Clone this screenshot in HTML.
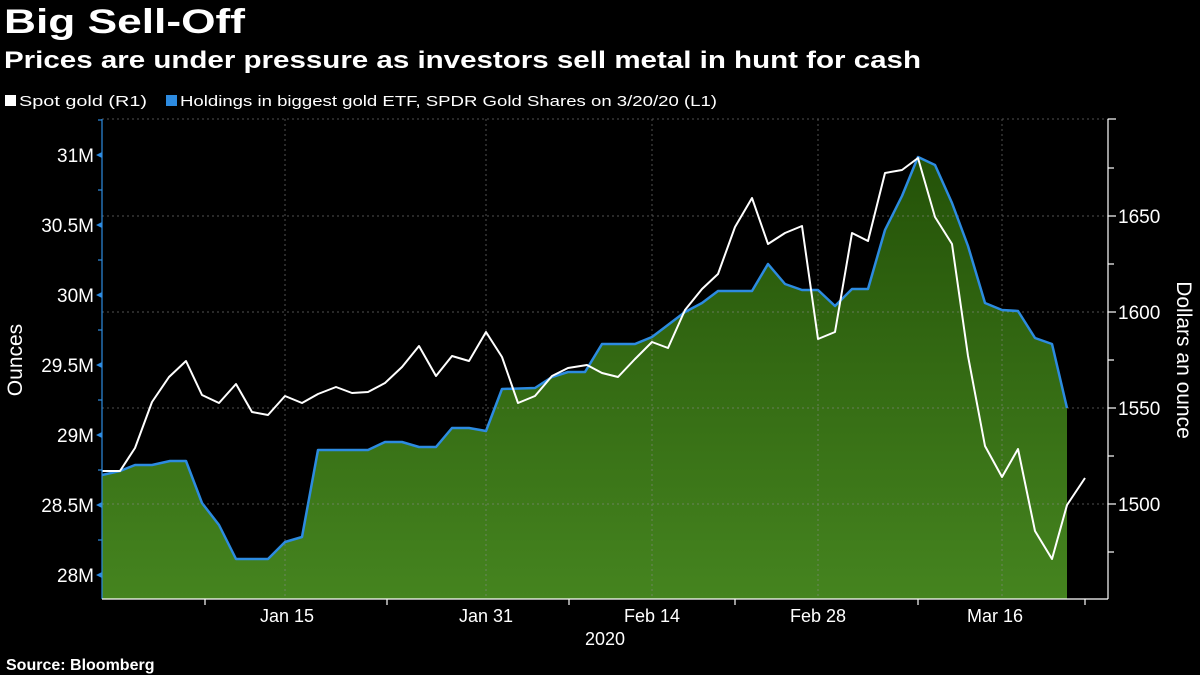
<!DOCTYPE html>
<html><head><meta charset="utf-8"><style>
html,body{margin:0;padding:0;background:#000;}
svg{display:block;font-family:"Liberation Sans",sans-serif;}
</style></head><body>
<svg width="1200" height="675" viewBox="0 0 1200 675" xmlns="http://www.w3.org/2000/svg">
<defs>
<linearGradient id="g" gradientUnits="userSpaceOnUse" x1="0" y1="157" x2="0" y2="599">
<stop offset="0" stop-color="#245208"/><stop offset="1" stop-color="#45841f"/>
</linearGradient>
</defs>
<rect width="1200" height="675" fill="#000"/>
<text x="4" y="33" fill="#fff" font-size="34" font-weight="bold" textLength="241" lengthAdjust="spacingAndGlyphs">Big Sell-Off</text>
<text x="4" y="68" fill="#fff" font-size="24" font-weight="bold" textLength="917" lengthAdjust="spacingAndGlyphs">Prices are under pressure as investors sell metal in hunt for cash</text>
<rect x="5" y="95" width="11" height="11" fill="#fff"/>
<text x="19" y="106" fill="#fff" font-size="15" textLength="128" lengthAdjust="spacingAndGlyphs">Spot gold (R1)</text>
<rect x="166" y="95" width="11" height="11" fill="#2d8be0"/>
<text x="180" y="106" fill="#fff" font-size="15" textLength="537" lengthAdjust="spacingAndGlyphs">Holdings in biggest gold ETF, SPDR Gold Shares on 3/20/20 (L1)</text>

<polygon fill="url(#g)" points="102,599 102,475 120,471 135,465 152,465 170,461 186,461 202,503 219,525 236,559 268,559 285,542 302,537 318,450 368,450 385,442 402,442 419,447 436,447 452,428 469,428 486,431 502,389 535,388 552,377 568,372 585,372 602,344 635,344 652,337 685,312 702,303 718,291 752,291 768,264 785,284 802,290 818,290 835,306 852,289 868,289 885,230 902,196 918,157 935,165 952,203 968,246 985,303 1002,310 1018,311 1035,338 1052,344 1067,408 1067,599"/>

<g stroke="#888" stroke-width="1" stroke-dasharray="2,3" fill="none" opacity="0.6">
<line x1="102" y1="119" x2="1108" y2="119"/>
<line x1="102" y1="216" x2="1108" y2="216"/>
<line x1="102" y1="312" x2="1108" y2="312"/>
<line x1="102" y1="408" x2="1108" y2="408"/>
<line x1="102" y1="504" x2="1108" y2="504"/>
<line x1="285" y1="119" x2="285" y2="599"/>
<line x1="486" y1="119" x2="486" y2="599"/>
<line x1="652" y1="119" x2="652" y2="599"/>
<line x1="818" y1="119" x2="818" y2="599"/>
<line x1="1002" y1="119" x2="1002" y2="599"/>
</g>

<polyline fill="none" stroke="#2d8be0" stroke-width="2.5" stroke-linejoin="round" points="102,475 120,471 135,465 152,465 170,461 186,461 202,503 219,525 236,559 268,559 285,542 302,537 318,450 368,450 385,442 402,442 419,447 436,447 452,428 469,428 486,431 502,389 535,388 552,377 568,372 585,372 602,344 635,344 652,337 685,312 702,303 718,291 752,291 768,264 785,284 802,290 818,290 835,306 852,289 868,289 885,230 902,196 918,157 935,165 952,203 968,246 985,303 1002,310 1018,311 1035,338 1052,344 1067,408"/>
<polyline fill="none" stroke="#fff" stroke-width="2" stroke-linejoin="round" points="102,471 120,471 135,448 152,402 169,377 186,361 202,395 219,403 236,384 252,412 268,415 285,396 302,403 318,394 336,387 352,393 368,392 385,383 402,367 419,346 436,376 452,356 469,361 486,332 502,357 518,403 535,396 552,376 568,368 587,365 602,373 618,377 635,359 652,342 668,348 685,310 702,289 718,274 735,227 752,198 768,244 785,233 802,226 818,339 835,332 852,233 868,241 885,173 902,170 918,158 935,217 952,244 968,356 985,446 1002,477 1018,449 1035,531 1052,559 1067,505 1085,478"/>

<g stroke="#fff" stroke-width="1.2">
<line x1="102" y1="119" x2="102" y2="599" stroke="#2d8be0"/>
<line x1="102" y1="599" x2="1108" y2="599"/>
<line x1="1108" y1="119" x2="1108" y2="599"/>
<line x1="1108" y1="119" x2="1116" y2="119"/>
<line x1="1108" y1="168" x2="1114" y2="168"/>
<line x1="1108" y1="264" x2="1114" y2="264"/>
<line x1="1108" y1="360" x2="1114" y2="360"/>
<line x1="1108" y1="456" x2="1114" y2="456"/>
<line x1="1108" y1="552" x2="1114" y2="552"/>
<line x1="1108" y1="216" x2="1116" y2="216"/>
<line x1="1108" y1="312" x2="1116" y2="312"/>
<line x1="1108" y1="408" x2="1116" y2="408"/>
<line x1="1108" y1="504" x2="1116" y2="504"/>
<line x1="205" y1="599" x2="205" y2="605"/>
<line x1="387" y1="599" x2="387" y2="605"/>
<line x1="569" y1="599" x2="569" y2="605"/>
<line x1="735" y1="599" x2="735" y2="605"/>
<line x1="918" y1="599" x2="918" y2="605"/>
<line x1="1085" y1="599" x2="1085" y2="605"/>
</g>
<g stroke="#2d8be0" stroke-width="1.2">
<line x1="98" y1="120" x2="102" y2="120"/><line x1="98" y1="190" x2="102" y2="190"/><line x1="98" y1="260" x2="102" y2="260"/><line x1="98" y1="330" x2="102" y2="330"/><line x1="98" y1="400" x2="102" y2="400"/><line x1="98" y1="470" x2="102" y2="470"/><line x1="98" y1="540" x2="102" y2="540"/>
</g>
<g fill="#2d8be0">
<polygon points="96,155 102,152 102,158"/><polygon points="96,225 102,222 102,228"/><polygon points="96,295 102,292 102,298"/><polygon points="96,365 102,362 102,368"/><polygon points="96,435 102,432 102,438"/><polygon points="96,505 102,502 102,508"/><polygon points="96,575 102,572 102,578"/>
</g>

<g fill="#fff" font-size="19" text-anchor="end">
<text x="94" y="162">31M</text><text x="94" y="232">30.5M</text><text x="94" y="302">30M</text><text x="94" y="372">29.5M</text><text x="94" y="442">29M</text><text x="94" y="512">28.5M</text><text x="94" y="582">28M</text>
</g>
<g fill="#fff" font-size="19">
<text x="1118" y="223">1650</text><text x="1118" y="319">1600</text><text x="1118" y="415">1550</text><text x="1118" y="511">1500</text>
</g>
<g fill="#fff" font-size="18" text-anchor="middle">
<text x="287" y="622">Jan 15</text><text x="486" y="622">Jan 31</text><text x="652" y="622">Feb 14</text><text x="818" y="622">Feb 28</text><text x="995" y="622">Mar 16</text>
<text x="605" y="645">2020</text>
</g>
<text transform="translate(22,360) rotate(-90)" fill="#fff" font-size="21" text-anchor="middle">Ounces</text>
<text transform="translate(1177,360) rotate(90)" fill="#fff" font-size="21" text-anchor="middle">Dollars an ounce</text>
<text x="6" y="670" fill="#fff" font-size="16" font-weight="bold">Source: Bloomberg</text>
</svg>
</body></html>
